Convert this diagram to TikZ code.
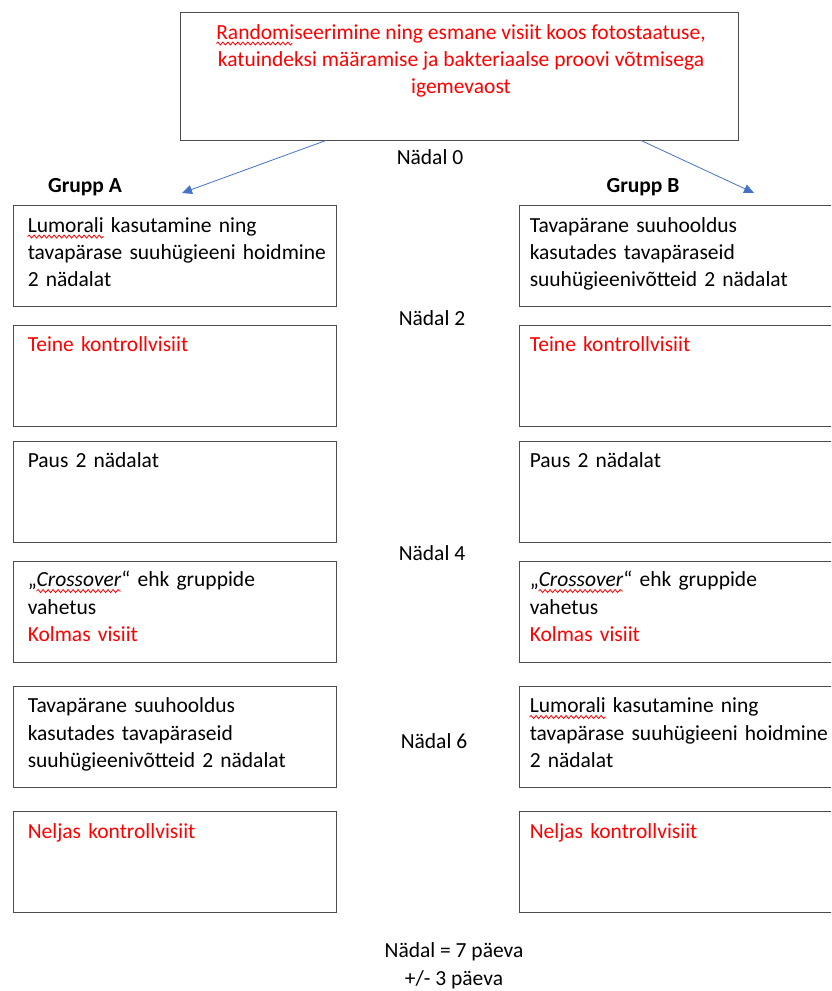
\documentclass[tikz,border=0pt]{standalone}
\usepackage{fontspec}
\setmainfont{Carlito}
\usepackage{xcolor}
\usetikzlibrary{arrows.meta,decorations.pathmorphing}

\definecolor{nool}{HTML}{4472C4}
\definecolor{raam}{HTML}{4D4D4D}
\newlength\lumw
\newlength\crw
\newlength\jutw
\newlength\randw
\newcommand\suur{\fontsize{21.5}{27.3}\selectfont}

\tikzset{
	kast/.style={draw=raam, line width=0.9pt, minimum width=323pt, minimum height=101pt, inner sep=0pt},
	sisu/.style={anchor=north west, inner sep=0pt, text width=310pt, align=left},
	joon/.style={draw=nool, line width=0.8pt, -{Triangle[length=10pt,width=9pt]}},
	laine/.style={draw=red, line width=0.8pt, decorate, decoration={snake, amplitude=1.5pt, segment length=5pt}}
}

\begin{document}
\settowidth{\lumw}{\suur Lumorali}%
\settowidth{\crw}{\suur\itshape Crossover}%
\settowidth{\jutw}{\suur „}%
\settowidth{\randw}{\suur Randomiseerimine ning esmane visiit koos fotostaatuse,}%
\begin{tikzpicture}[x=1pt, y=-1pt, font=\suur]
	\useasboundingbox (0,0) rectangle (831,991);
	\clip (0,0) rectangle (831,991);

	% algus
	\node[kast, minimum width=558pt, minimum height=128pt] (algus) at (459,76) {};
	\node[anchor=north, align=center, inner sep=0pt, text=red] (algustekst) at (461,20)
		{\strut Randomiseerimine ning esmane visiit koos fotostaatuse,\\
		katuindeksi määramise ja bakteriaalse proovi võtmisega\\ igemevaost};
	\draw[laine] ([xshift=-0.5\randw, yshift=-23.5pt]algustekst.north) -- ++(\lumw,0);

	\node (n0) at (430,157) {Nädal 0};
	\node (grA) at (85,187) {\bfseries Grupp A};
	\node (grB) at (643,187) {\bfseries Grupp B};

	\coordinate (otsA) at (182,193);
	\coordinate (otsB) at (754,193);
	\draw[joon] ([xshift=-133pt]algus.south) -- (otsA);
	\draw[joon] ([xshift=182pt]algus.south) -- (otsB);

	% kastid
	\foreach \rida/\yk in {1/256,2/375.5,3/491.5,4/611.5,5/736.5,6/862} {
		\node[kast] (a\rida) at (174.5,\yk) {};
		\node[kast, minimum width=330pt] (b\rida) at (684,\yk) {};
	}

	% grupp A
	\node[sisu] (ta1) at ([shift={(15,8)}]a1.north west)
		{\strut Lumorali kasutamine ning\\ tavapärase suuhügieeni hoidmine\\ 2 nädalat};
	\node[sisu, text=red] (ta2) at ([shift={(15,8)}]a2.north west) {\strut Teine kontrollvisiit};
	\node[sisu] (ta3) at ([shift={(15,8)}]a3.north west) {\strut Paus 2 nädalat};
	\node[sisu] (ta4) at ([shift={(15,7)}]a4.north west)
		{\strut„\textit{Crossover}“ ehk gruppide\\ vahetus\\ \textcolor{red}{Kolmas visiit}};
	\node[sisu] (ta5) at ([shift={(15,8)}]a5.north west)
		{\strut Tavapärane suuhooldus\\ kasutades tavapäraseid\\ suuhügieenivõtteid 2 nädalat};
	\node[sisu, text=red] (ta6) at ([shift={(15,8)}]a6.north west) {\strut Neljas kontrollvisiit};

	% grupp B
	\node[sisu] (tb1) at ([shift={(11,8)}]b1.north west)
		{\strut Tavapärane suuhooldus\\ kasutades tavapäraseid\\ suuhügieenivõtteid 2 nädalat};
	\node[sisu, text=red] (tb2) at ([shift={(11,8)}]b2.north west) {\strut Teine kontrollvisiit};
	\node[sisu] (tb3) at ([shift={(11,8)}]b3.north west) {\strut Paus 2 nädalat};
	\node[sisu] (tb4) at ([shift={(11,7)}]b4.north west)
		{\strut„\textit{Crossover}“ ehk gruppide\\ vahetus\\ \textcolor{red}{Kolmas visiit}};
	\node[sisu] (tb5) at ([shift={(11,8)}]b5.north west)
		{\strut Lumorali kasutamine ning\\ tavapärase suuhügieeni hoidmine\\ 2 nädalat};
	\node[sisu, text=red] (tb6) at ([shift={(11,8)}]b6.north west) {\strut Neljas kontrollvisiit};

	% lainjoon
	\draw[laine] ([yshift=-23.5pt]ta1.north west) -- ++(\lumw,0);
	\draw[laine] ([yshift=-23.5pt]tb5.north west) -- ++(\lumw,0);
	\draw[laine] ([xshift=\jutw, yshift=-23.5pt]ta4.north west) -- ++(\crw,0);
	\draw[laine] ([xshift=\jutw, yshift=-23.5pt]tb4.north west) -- ++(\crw,0);

	\node (n2) at (432,318) {Nädal 2};
	\node (n4) at (432,553) {Nädal 4};
	\node (n6) at (434,741) {Nädal 6};

	\node[align=center, font=\fontsize{21.5}{28}\selectfont] (selgitus) at (454,966)
		{Nädal = 7 päeva\\ +/- 3 päeva};
\end{tikzpicture}
\end{document}
